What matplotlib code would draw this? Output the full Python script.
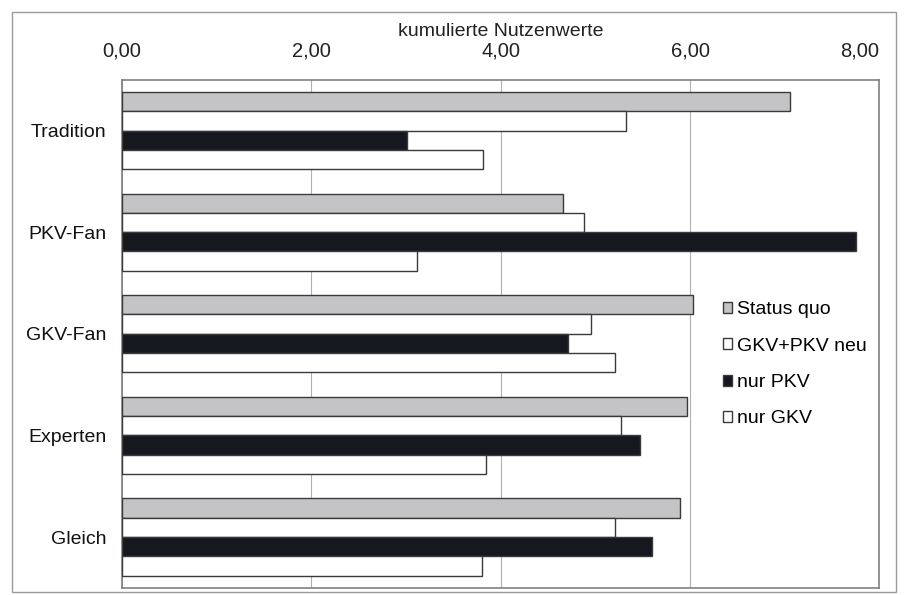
import numpy as np
import matplotlib
matplotlib.use('Agg')
import matplotlib.pyplot as plt
from matplotlib.patches import Rectangle

plt.rcParams['font.family'] = ['Liberation Sans', 'DejaVu Sans']

# cumulative utility values per group
groups = ['Tradition', 'PKV-Fan', 'GKV-Fan', 'Experten', 'Gleich']
series = ['Status quo', 'GKV+PKV neu', 'nur PKV', 'nur GKV']
status_quo = [7.06, 4.66, 6.03, 5.97, 5.89]
gkv_pkv_neu = [5.32, 4.88, 4.95, 5.27, 5.21]
nur_pkv = [3.01, 7.75, 4.71, 5.47, 5.60]
nur_gkv = [3.81, 3.12, 5.21, 3.84, 3.80]
ticks = [0, 2, 4, 6, 8]
tick_labels = ['0,00', '2,00', '4,00', '6,00', '8,00']

values = [status_quo, gkv_pkv_neu, nur_pkv, nur_gkv]
fills = ['#c4c4c6', 'white', '#16181f', 'white']

fig = plt.figure(figsize=(9.07, 5.95), dpi=100)
fig.patches.append(Rectangle((0.013, 0.005), 0.975, 0.975, transform=fig.transFigure,
                             fill=False, edgecolor='#9a9a9a', linewidth=1.0))
ax = fig.add_axes([0.1345, 0.012, 0.835, 0.854])

y = np.arange(len(groups))
h = 0.19
for i, (vals, fc) in enumerate(zip(values, fills)):
    ax.barh(y - 1.5 * h + i * h, vals, height=h, color=fc, edgecolor='#3a3a3a',
            linewidth=1.0, label=series[i], zorder=3)

ax.set_xlim(0, 8)
ax.set_ylim(len(groups) - 0.5, -0.5)
ax.xaxis.tick_top()
ax.xaxis.set_label_position('top')
ax.set_xticks(ticks)
ax.set_xticklabels(tick_labels, fontsize=14.5, color='#222222')
# keep the last label inside the frame
ax.get_xticklabels()[-1].set_horizontalalignment('right')
ax.set_xlabel('kumulierte Nutzenwerte', fontsize=14, color='#222222', labelpad=4)
ax.set_yticks(y)
ax.set_yticklabels(groups, fontsize=14, color='#111111')
ax.tick_params(axis='x', length=0, pad=14)
ax.tick_params(axis='y', length=0, pad=11)
ax.grid(axis='x', color='#b0b0b0', linewidth=0.8, zorder=0)
for s in ax.spines.values():
    s.set_color('#808080')
    s.set_linewidth(1.2)

ax.legend(loc='center left', bbox_to_anchor=(0.77, 0.44), frameon=False, fontsize=14,
          handlelength=0.5, handleheight=0.5, handletextpad=0.25, labelspacing=1.0)

fig.savefig('out.png', dpi=100)
